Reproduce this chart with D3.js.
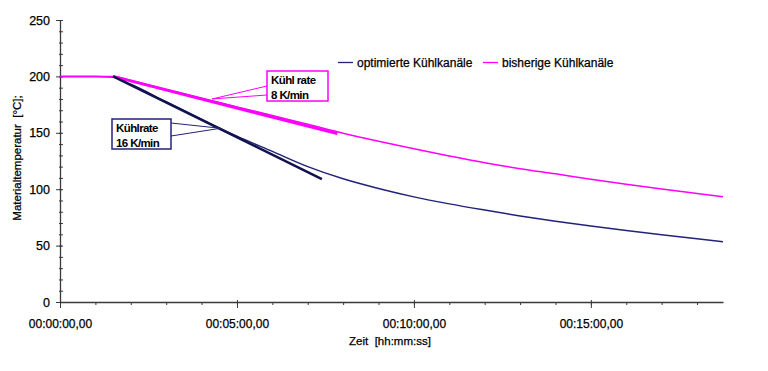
<!DOCTYPE html>
<html>
<head>
<meta charset="utf-8">
<script src="https://cdn.jsdelivr.net/npm/d3@7"></script>
<style>
  body { margin: 0; background: #fff; }
  text { font-family: Arial, "Liberation Sans", sans-serif; }
  .heavy { stroke: #000; stroke-width: 0.25px; }
</style>
</head>
<body>
<div id="chart"></div>
<script>
// time in seconds, temperature in °C
var timeOpt = [0, 60, 90, 120, 180, 240, 300, 360, 420, 480, 540, 600, 660, 720, 780, 840, 900, 960, 1020, 1080, 1124];
var tempOpt = [200, 200, 199.5, 193, 177.5, 162, 147, 133.5, 120, 109.2, 100.6, 93.2, 87, 81.5, 76.3, 71.6, 67.3, 63.3, 59.6, 56.1, 53.4];

var timeOld = [0, 60, 90, 120, 180, 240, 300, 360, 420, 480, 540, 600, 660, 720, 780, 840, 900, 960, 1020, 1080, 1124];
var tempOld = [200, 200, 200, 196.3, 188.5, 180.7, 173, 165.3, 157.6, 149.6, 142.5, 135.8, 129.5, 123.5, 118.2, 113.6, 108.8, 104.4, 100.2, 96.2, 93.3];

// tangent lines (Kühlrate)
var tangentOpt = [[90, 200], [444, 109]];
var tangentOld = [[90, 200], [470, 149.3]];

var xTicks = [0, 300, 600, 900];
var yTicks = [0, 50, 100, 150, 200, 250];

var seriesNames = ["optimierte Kühlkanäle", "bisherige Kühlkanäle"];

var svg = d3.select("#chart")
    .append("svg")
    .attr("width", 768)
    .attr("height", 371),
    margin = { top: 20, right: 45, bottom: 69, left: 60 },
    width = 768 - margin.left - margin.right,
    height = 371 - margin.top - margin.bottom,
    g = svg.append("g").attr("transform", "translate(" + margin.left + "," + margin.top + ")");

var x = d3.scaleLinear().domain([0, 1124]).range([0, width]);
var y = d3.scaleLinear().domain([0, 250]).range([height, 0]);

var pad = function (n) { return (n < 10 ? "0" : "") + n; };
var fmtTime = function (s) {
    var h = Math.floor(s / 3600), m = Math.floor((s % 3600) / 60), sec = s % 60;
    return pad(h) + ":" + pad(m) + ":" + pad(sec) + ",00";
};

var axisColor = "#3a3a3a";

// minor ticks
g.append("g")
    .attr("transform", "translate(0," + height + ")")
    .call(d3.axisBottom(x).tickValues(d3.range(0, 1124, 60)).tickSize(3).tickFormat(""))
    .call(function (a) { a.select(".domain").remove(); a.selectAll("line").attr("stroke", axisColor); });

g.append("g")
    .call(d3.axisRight(y).tickValues(d3.range(0, 251, 10)).tickSize(3).tickFormat(""))
    .call(function (a) { a.select(".domain").remove(); a.selectAll("line").attr("stroke", axisColor).attr("x1", -1); });

// major ticks
var xAxis = g.append("g")
    .attr("transform", "translate(0," + height + ")")
    .call(d3.axisBottom(x).tickValues(xTicks).tickSize(6).tickSizeOuter(0).tickFormat(fmtTime));
xAxis.selectAll(".tick line").attr("y1", -2);
xAxis.selectAll("text").attr("dy", "1.4em").attr("font-size", 12).attr("fill", "#000").attr("class", "heavy");

var yAxis = g.append("g")
    .call(d3.axisLeft(y).tickValues(yTicks).tickSize(4).tickSizeOuter(0));
yAxis.selectAll(".tick line").attr("x1", 2);
yAxis.selectAll("text").attr("x", -10).attr("font-size", 12.5).attr("fill", "#000").attr("class", "heavy");

g.selectAll(".domain").attr("stroke", axisColor).attr("stroke-width", 1.3);
g.selectAll(".tick line").attr("stroke", axisColor);

// axis titles
svg.append("text")
    .attr("x", 390).attr("y", 345)
    .attr("text-anchor", "middle")
    .attr("font-size", 11.5)
    .attr("class", "heavy")
    .attr("xml:space", "preserve")
    .text("Zeit  [hh:mm:ss]");

svg.append("text")
    .attr("transform", "translate(21,158) rotate(-90)")
    .attr("text-anchor", "middle")
    .attr("font-size", 11.5)
    .attr("class", "heavy")
    .attr("xml:space", "preserve")
    .text("Materialtemperatur  [°C];");

var line = d3.line()
    .x(function (d) { return x(d[0]); })
    .y(function (d) { return y(d[1]); })
    .curve(d3.curveMonotoneX);

var straight = d3.line()
    .x(function (d) { return x(d[0]); })
    .y(function (d) { return y(d[1]); });

var optData = d3.zip(timeOpt, tempOpt);
var oldData = d3.zip(timeOld, tempOld);

g.append("path").datum(optData)
    .attr("fill", "none").attr("stroke", "#22227a").attr("stroke-width", 1.5)
    .attr("d", line);
g.append("path").datum(oldData)
    .attr("fill", "none").attr("stroke", "#ff00ff").attr("stroke-width", 1.5)
    .attr("d", line);

g.append("path").datum(tangentOld)
    .attr("fill", "none").attr("stroke", "#ff00ff").attr("stroke-width", 3)
    .attr("d", straight);
g.append("path").datum(tangentOpt)
    .attr("fill", "none").attr("stroke", "#12124e").attr("stroke-width", 2.5)
    .attr("d", straight);

// callouts
function callout(box, tip, color, lines) {
    var tx = x(tip[0]) + margin.left, ty = y(tip[1]) + margin.top;
    var side = tx > box.x ? box.x + box.w : box.x;
    svg.append("polyline")
        .attr("points", [[side, box.y + box.a], [tx, ty], [side, box.y + box.b]].join(" "))
        .attr("fill", "none").attr("stroke", color).attr("stroke-width", 1);
    svg.append("rect")
        .attr("x", box.x).attr("y", box.y).attr("width", box.w).attr("height", box.h)
        .attr("fill", "#fff").attr("stroke", color).attr("stroke-width", 1.5);
    lines.forEach(function (t, i) {
        svg.append("text")
            .attr("x", box.x + 4).attr("y", box.y + 13 + i * 15)
            .attr("font-size", 11.5).attr("font-weight", "bold")
            .attr("letter-spacing", -0.6)
            .text(t);
    });
}

callout({ x: 267, y: 71, w: 61, h: 30, a: 15, b: 24 }, [258, 180], "#ff00ff", ["Kühl rate", "8 K/min"]);
callout({ x: 112, y: 119, w: 59, h: 30, a: 4, b: 17 }, [272, 154], "#22227a", ["Kühlrate", "16 K/min"]);

// legend
var legend = svg.append("g").attr("font-size", 12);
var legendX = [338, 483];
var legendColor = ["#22227a", "#ff00ff"];
seriesNames.forEach(function (name, i) {
    legend.append("line")
        .attr("x1", legendX[i]).attr("x2", legendX[i] + 15)
        .attr("y1", 62.5).attr("y2", 62.5)
        .attr("stroke", legendColor[i]).attr("stroke-width", 1.3);
    legend.append("text")
        .attr("x", legendX[i] + 19).attr("y", 66.5)
        .attr("class", "heavy")
        .text(name);
});
</script>
</body>
</html>
